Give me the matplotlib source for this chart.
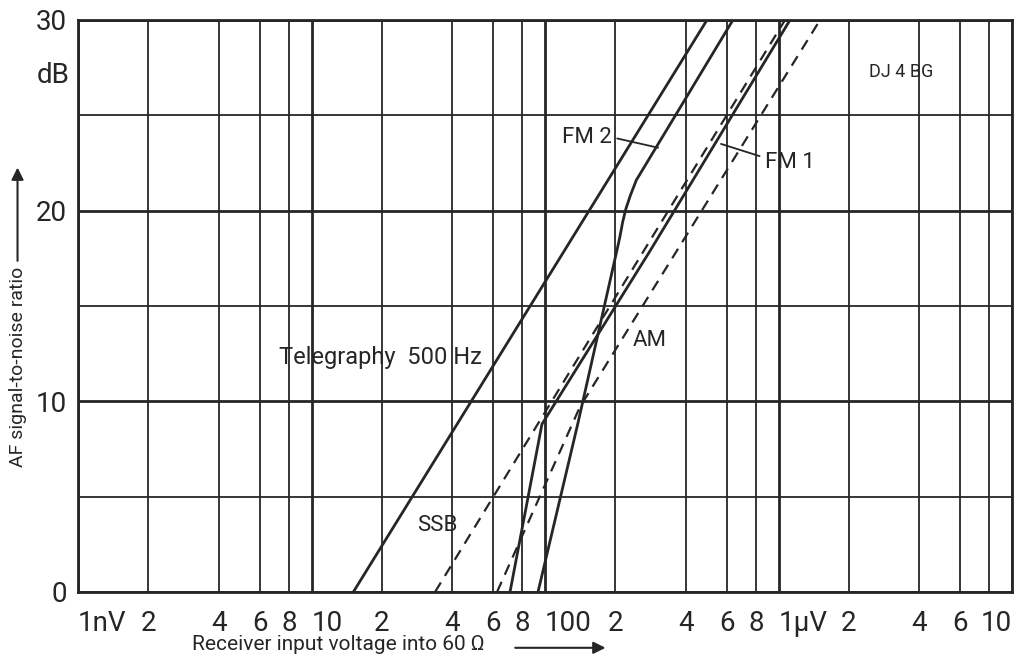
import numpy as np
import matplotlib
matplotlib.use("Agg")
import matplotlib.pyplot as plt

plt.rcParams["font.family"] = ["Roboto", "DejaVu Sans"]

# x values in nV, y values in dB
tel_x = [15.1, 494]
tel_y = [0, 30]

ssb_x = [33.8, 1066]
ssb_y = [0, 30]

fm1_x = [70.8, 97, 282, 1120]
fm1_y = [0, 8.8, 17.9, 30]

fm2_x = [93.3, 138, 203, 209, 215, 222, 232, 246, 362, 638]
fm2_y = [0, 8.8, 17.9, 18.6, 19.4, 20.1, 20.8, 21.6, 25, 30]

am_x = [62.3, 141, 367, 1506]
am_y = [0, 9.7, 17.9, 30]

minor_ticks = [2, 4, 6, 8, 20, 40, 60, 80, 200, 400, 600, 800, 2000, 4000, 6000, 8000]
minor_labels = ["2", "4", "6", "8", "2", "4", "6", "8", "2", "4", "6", "8", "2", "4", "6", ""]
major_ticks = [1, 10, 100, 1000, 10000]
major_labels = ["1nV", "10", "100", "1µV", "10"]

ink = "#262626"

fig = plt.figure(figsize=(10.31, 6.59), dpi=100)
ax = fig.add_axes([0.0757, 0.1017, 0.9816 - 0.0757, 0.9697 - 0.1017])
ax.set_xscale("log")
ax.set_xlim(1, 10000)
ax.set_ylim(0, 30)

# grid
ax.set_xticks(major_ticks)
ax.set_xticklabels(major_labels)
ax.set_xticks(minor_ticks, minor=True)
ax.set_xticklabels(minor_labels, minor=True)
ax.set_yticks([0, 10, 20, 30])
ax.set_yticklabels(["0", "10", "20", "30"])
ax.set_yticks([5, 15, 25], minor=True)
ax.grid(True, which="major", color=ink, lw=2.0)
ax.grid(True, which="minor", color=ink, lw=1.3)
ax.tick_params(which="both", length=0, labelsize=20, colors=ink, pad=13)
ax.tick_params(axis="y", pad=8)
# decade labels start at their grid line, the last one ends at the frame
xl = ax.get_xticklabels()
for lbl in xl[:-1]:
    lbl.set_horizontalalignment("left")
xl[-1].set_horizontalalignment("right")
for s in ax.spines.values():
    s.set_color(ink)
    s.set_linewidth(2)

# curves
ax.plot(tel_x, tel_y, color=ink, lw=2.0)
ax.plot(ssb_x, ssb_y, color=ink, lw=1.6, ls=(0, (5, 3.5)))
ax.plot(fm1_x, fm1_y, color=ink, lw=2.0)
ax.plot(fm2_x, fm2_y, color=ink, lw=2.0)
ax.plot(am_x, am_y, color=ink, lw=1.6, ls=(0, (5, 3.5)))

# labels
ax.text(19.8, 12.3, "Telegraphy  500 Hz", fontsize=17, color=ink, ha="center", va="center")
ax.text(34.5, 3.5, "SSB", fontsize=16, color=ink, ha="center", va="center")
ax.text(238, 13.2, "AM", fontsize=16, color=ink, ha="left", va="center")
ax.annotate("FM 2", xy=(305, 23.3), xytext=(193, 23.85), fontsize=16, color=ink,
            ha="right", va="center",
            arrowprops=dict(arrowstyle="-", color=ink, lw=1.3, shrinkA=2, shrinkB=0,
                            relpos=(1, 0.5)))
ax.annotate("FM 1", xy=(567, 23.5), xytext=(875, 22.55), fontsize=16, color=ink,
            ha="left", va="center",
            arrowprops=dict(arrowstyle="-", color=ink, lw=1.3, shrinkA=2, shrinkB=0,
                            relpos=(0, 0.7)))
ax.text(3350, 27.27, "DJ 4 BG", fontsize=13, color=ink, ha="center", va="center")
ax.text(-0.009, 27.1, "dB", fontsize=20, color=ink, ha="right", va="center",
        transform=ax.get_yaxis_transform())

# axis titles with arrows
fig.text(0.186, 0.022, "Receiver input voltage into 60 Ω", fontsize=15, color=ink,
         ha="left", va="center")
fig.add_artist(matplotlib.patches.FancyArrowPatch((0.497, 0.017), (0.590, 0.017),
               transform=fig.transFigure, arrowstyle="-|>", mutation_scale=18,
               color=ink, lw=1.5))
fig.text(0.017, 0.443, "AF signal-to-noise ratio", fontsize=14, color=ink,
         rotation=90, ha="center", va="center")
fig.add_artist(matplotlib.patches.FancyArrowPatch((0.017, 0.60), (0.017, 0.75),
               transform=fig.transFigure, arrowstyle="-|>", mutation_scale=18,
               color=ink, lw=1.5))

fig.savefig("out.png", dpi=100)
